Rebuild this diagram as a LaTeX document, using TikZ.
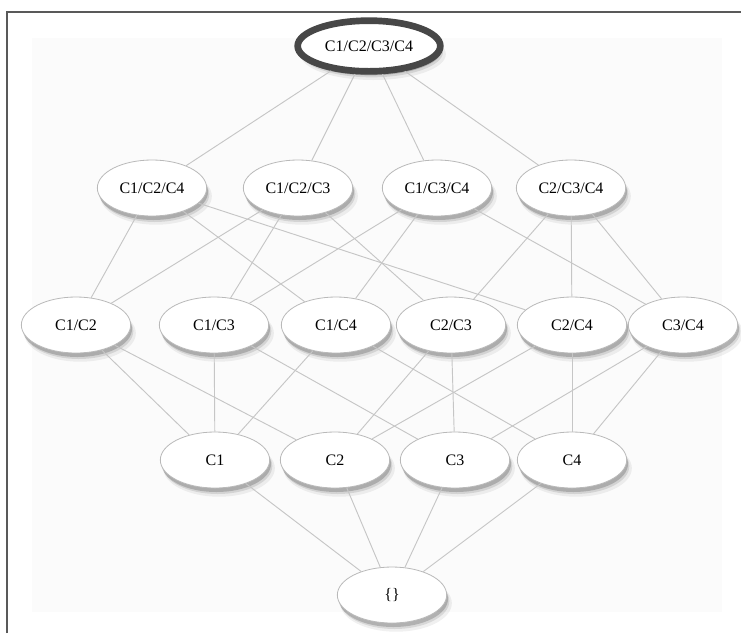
\documentclass[tikz,border=0pt]{standalone}
\usepackage{fontspec}
\setmainfont{Liberation Serif}
\usetikzlibrary{%
		shapes.geometric%
		,shadows%
	}

\tikzset{
	set/.style={ellipse, draw=gray!55, fill=white, line width=0.6pt,
		minimum width=82pt, minimum height=42pt, inner sep=0pt,
		font=\fontsize{12}{14}\selectfont,
		drop shadow={shadow xshift=3pt, shadow yshift=-6pt, shadow scale=1.02, fill=black, opacity=0.06},
		drop shadow={shadow xshift=2pt, shadow yshift=-4.5pt, fill=black, opacity=0.1},
		drop shadow={shadow xshift=1pt, shadow yshift=-3pt, fill=black, opacity=0.18}},
	full/.style={set, draw=black!72, line width=5pt,
		minimum width=107pt, minimum height=38pt},
	link/.style={draw=gray!45, line width=0.7pt}
}

\begin{document}
\begin{tikzpicture}[x=0.75pt,y=-0.75pt]
			\useasboundingbox (0,0) rectangle (741,633);
			\fill[black!1.5] (32,38) rectangle (722,612);
			\draw[black!65, line width=1.2pt] (7,633) -- (7,12) -- (741,12);

			% lattice, top to bottom
			\node[full] (c1234) at (369,46) {C1/C2/C3/C4};

			\node[set] (c124) at (152,188) {C1/C2/C4};
			\node[set] (c123) at (298,188) {C1/C2/C3};
			\node[set] (c134) at (437,188) {C1/C3/C4};
			\node[set] (c234) at (571,188) {C2/C3/C4};

			\node[set] (c12) at (76,325) {C1/C2};
			\node[set] (c13) at (214,325) {C1/C3};
			\node[set] (c14) at (336,325) {C1/C4};
			\node[set] (c23) at (451,325) {C2/C3};
			\node[set] (c24) at (572,325) {C2/C4};
			\node[set] (c34) at (683,325) {C3/C4};

			\node[set] (c1) at (215,460) {C1};
			\node[set] (c2) at (335,460) {C2};
			\node[set] (c3) at (455,460) {C3};
			\node[set] (c4) at (572,460) {C4};

			\node[set] (c0) at (392,595) {\{\}};

			\foreach \a/\b in {c1234/c124, c1234/c123, c1234/c134, c1234/c234,
					c124/c12, c124/c14, c124/c24,
					c123/c12, c123/c13, c123/c23,
					c134/c13, c134/c14, c134/c34,
					c234/c23, c234/c24, c234/c34,
					c12/c1, c12/c2, c13/c1, c13/c3, c14/c1, c14/c4,
					c23/c2, c23/c3, c24/c2, c24/c4, c34/c3, c34/c4,
					c1/c0, c2/c0, c3/c0, c4/c0}
				\draw[link] (\a) -- (\b);

		\end{tikzpicture}
\end{document}
